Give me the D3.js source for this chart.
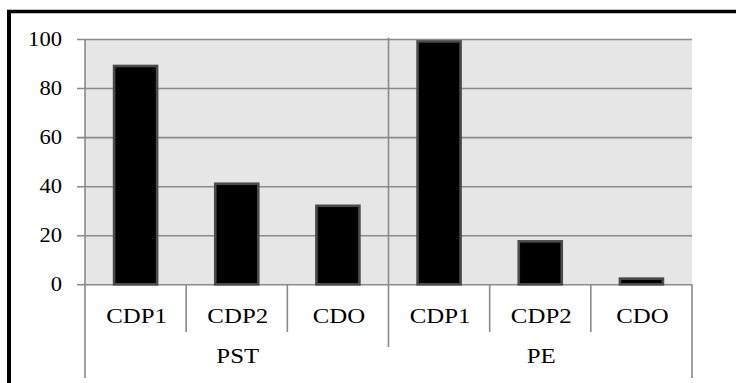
<!DOCTYPE html>
<html>
<head>
<meta charset="utf-8">
<script src="https://cdn.jsdelivr.net/npm/d3@7"></script>
</head>
<body style="margin:0">
<svg id="chart" width="736" height="383"></svg>
<script>
const groups = ["PST", "PE"];
const categories = ["CDP1", "CDP2", "CDO"];
const valuesPST = [89, 41, 32];
const valuesPE = [99, 17.5, 2.3];
const yTicks = [0, 20, 40, 60, 80, 100];

const FONT = '"Liberation Serif"';
const SX = 1.13; // horizontal stretch of the reference glyphs

const seriesByGroup = { PST: valuesPST, PE: valuesPE };
const data = [];
groups.forEach(g => categories.forEach((c, i) => data.push({ group: g, cat: c, key: g + "|" + c, value: seriesByGroup[g][i] })));

const svg = d3.select("#chart");
const W = 736, H = 383;
const plot = { left: 85, right: 692, top: 39, bottom: 284.3 };

// frame (left and top thick black lines)
svg.append("line").attr("x1", 9).attr("x2", 9).attr("y1", 10).attr("y2", H).attr("stroke", "#000").attr("stroke-width", 4);
svg.append("line").attr("x1", 7).attr("x2", W).attr("y1", 11.5).attr("y2", 11.5).attr("stroke", "#000").attr("stroke-width", 3.5);

const x = d3.scaleBand().domain(data.map(d => d.key)).range([plot.left, plot.right]).paddingInner(0).paddingOuter(0);
const y = d3.scaleLinear().domain([0, 100]).range([plot.bottom, plot.top]);

// plot background
svg.append("rect").attr("x", plot.left).attr("y", plot.top).attr("width", plot.right - plot.left).attr("height", plot.bottom - plot.top).attr("fill", "#e6e6e6");

// gridlines + ticks
const gy = svg.append("g").attr("transform", `translate(${plot.right},0)`);
gy.call(d3.axisLeft(y).tickValues(yTicks).tickSize(plot.right - plot.left + 8).tickFormat(""));
gy.select(".domain").remove();
gy.selectAll(".tick line").attr("stroke", "#8a8a8a").attr("stroke-width", 1.6);

// y tick labels
svg.append("g").selectAll("text").data(yTicks).join("text")
  .attr("transform", d => `translate(62,${y(d)}) scale(${SX},1)`)
  .attr("dy", "0.35em")
  .attr("text-anchor", "end")
  .attr("font-family", "Liberation Serif")
  .style("font-family", FONT)
  .attr("font-size", 20)
  .attr("fill", "#000")
  .text(d => d);

// bars
const barW = x.bandwidth() * 0.425;
svg.append("g").selectAll("rect").data(data).join("rect")
  .attr("x", d => x(d.key) + (x.bandwidth() - barW) / 2)
  .attr("y", d => y(d.value))
  .attr("width", barW)
  .attr("height", d => y(0) - y(d.value))
  .attr("fill", "#000")
  .attr("stroke", "#4a4a4a")
  .attr("stroke-width", 2.6);

// y axis line
svg.append("line").attr("x1", plot.left).attr("x2", plot.left).attr("y1", plot.top).attr("y2", 378).attr("stroke", "#8a8a8a").attr("stroke-width", 1.6);
// right end line below axis
svg.append("line").attr("x1", plot.right).attr("x2", plot.right).attr("y1", plot.bottom).attr("y2", 378).attr("stroke", "#8a8a8a").attr("stroke-width", 1.6);

// category separators
data.forEach((d, i) => {
  if (i === 0) return;
  const xx = x(d.key);
  const isGroupBoundary = d.cat === categories[0];
  svg.append("line").attr("x1", xx).attr("x2", xx)
    .attr("y1", isGroupBoundary ? 37.5 : plot.bottom)
    .attr("y2", isGroupBoundary ? 347 : 332)
    .attr("stroke", "#8a8a8a").attr("stroke-width", 1.6);
});

// category labels
svg.append("g").selectAll("text").data(data).join("text")
  .attr("transform", d => `translate(${x(d.key) + x.bandwidth() / 2 + 1},323) scale(${SX},1)`)
  .attr("text-anchor", "middle")
  .attr("font-family", "Liberation Serif")
  .style("font-family", FONT)
  .attr("font-size", 22)
  .attr("fill", "#000")
  .text(d => d.cat);

// group labels
svg.append("g").selectAll("text").data(groups).join("text")
  .attr("transform", g => {
    const keys = categories.map(c => g + "|" + c);
    const cx = (x(keys[0]) + x(keys[keys.length - 1]) + x.bandwidth()) / 2 + 1;
    return `translate(${cx},363) scale(${SX},1)`;
  })
  .attr("text-anchor", "middle")
  .attr("font-family", "Liberation Serif")
  .style("font-family", FONT)
  .attr("font-size", 22)
  .attr("fill", "#000")
  .text(g => g);
</script>
</body>
</html>
